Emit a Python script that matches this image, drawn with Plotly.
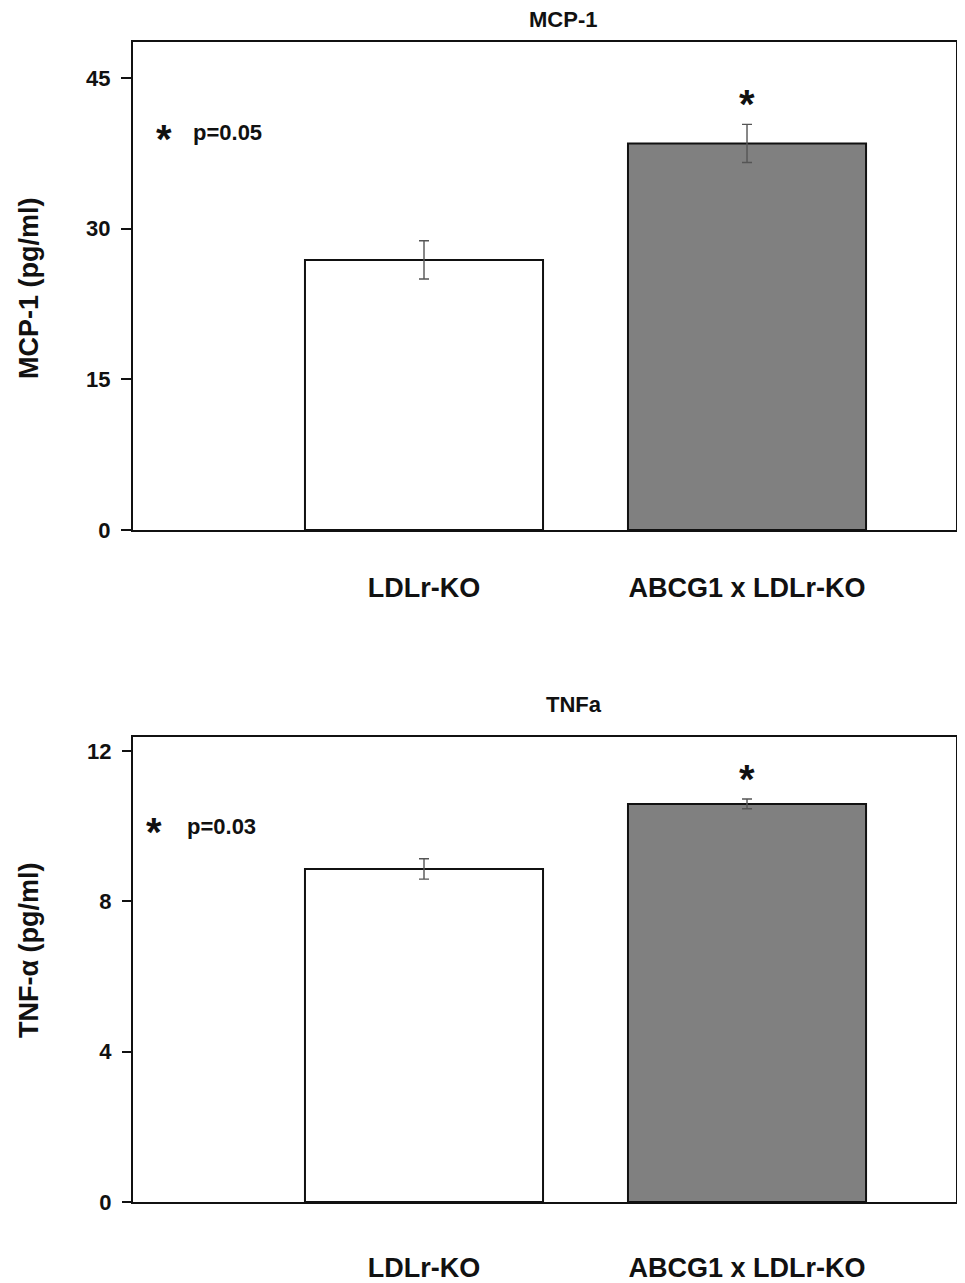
import plotly.graph_objects as go

groups = ["LDLr-KO", "ABCG1 x LDLr-KO"]
mcp1_values = [26.9, 38.5]
mcp1_err = [1.9, 1.9]
tnf_values = [8.86, 10.59]
tnf_err = [0.27, 0.13]
bar_colors = ["#ffffff", "#808080"]
positions = [0, 1]

# page body has an 8px margin, so the figure is sized to fit inside it
OFF = 8
W, H = 949, 1275
L_M, R_M = 125, 1
PW = W - L_M - R_M


def PX(sx):
    return (sx - OFF - L_M) / PW


def PY(sy):
    return (H - (sy - OFF)) / H


fig = go.Figure()
font = "Liberation Sans, Arial, sans-serif"

for vals, errs, xa, ya in [(mcp1_values, mcp1_err, "x", "y"), (tnf_values, tnf_err, "x2", "y2")]:
    fig.add_trace(go.Bar(x=positions, y=vals, width=0.737,
                         marker=dict(color=bar_colors, line=dict(color="#111111", width=2)),
                         error_y=dict(type="data", array=errs, color="#555555", thickness=1.4, width=5),
                         xaxis=xa, yaxis=ya, showlegend=False))

xr = [-0.9009, 1.647]
axis_common = dict(showline=True, linecolor="#111111", linewidth=2, mirror=True,
                   showgrid=False, zeroline=False, automargin=False)
tickf = dict(size=22, family=font, weight="bold", color="#111111")
xtickf = dict(size=27, family=font, weight="bold", color="#111111")

fig.update_layout(
    width=W, height=H, margin=dict(l=L_M, r=R_M, t=0, b=0),
    paper_bgcolor="white", plot_bgcolor="white",
    font=dict(family=font, color="#111111"),
    xaxis=dict(domain=[0, 1], range=xr, anchor="y", tickvals=positions, ticktext=groups,
               ticks="", ticklabelstandoff=33, tickfont=xtickf, **axis_common),
    yaxis=dict(domain=[PY(530), PY(42)], range=[0, 48.6], anchor="x",
               tickvals=[0, 15, 30, 45], ticks="outside", ticklen=10, tickwidth=2,
               tickcolor="#111111", tickfont=tickf, ticklabelstandoff=6, **axis_common),
    xaxis2=dict(domain=[0, 1], range=xr, anchor="y2", tickvals=positions, ticktext=groups,
                ticks="", ticklabelstandoff=41, tickfont=xtickf, **axis_common),
    yaxis2=dict(domain=[PY(1202), PY(737)], range=[0, 12.37], anchor="x2",
                tickvals=[0, 4, 8, 12], ticks="outside", ticklen=9, tickwidth=2,
                tickcolor="#111111", tickfont=tickf, ticklabelstandoff=6, **axis_common),
)


def bold(s):
    return "<b>" + s + "</b>"


def note(text, sx, sy, size, xanchor="center", angle=0):
    return dict(text=bold(text), x=PX(sx), y=PY(sy), xref="paper", yref="paper",
                xanchor=xanchor, yanchor="middle", textangle=angle,
                showarrow=False, font=dict(size=size))


annotations = [
    note("MCP-1", 563, 20, 22),
    note("TNFa", 574, 704, 22),
    note("MCP-1 (pg/ml)", 29, 288, 27, angle=-90),
    note("TNF-α (pg/ml)", 29, 950, 27, angle=-90),
    note("*", 164, 139, 40),
    note("p=0.05", 191, 133, 22, xanchor="left"),
    note("*", 154, 832, 40),
    note("p=0.03", 185, 826, 22, xanchor="left"),
    dict(text=bold("*"), x=1, y=mcp1_values[1] + mcp1_err[1], xref="x", yref="y",
         xanchor="center", yanchor="middle", yshift=20, showarrow=False, font=dict(size=40)),
    dict(text=bold("*"), x=1, y=tnf_values[1] + tnf_err[1], xref="x2", yref="y2",
         xanchor="center", yanchor="middle", yshift=20, showarrow=False, font=dict(size=40)),
]
fig.update_layout(annotations=annotations)

fig.write_html("out.html")
